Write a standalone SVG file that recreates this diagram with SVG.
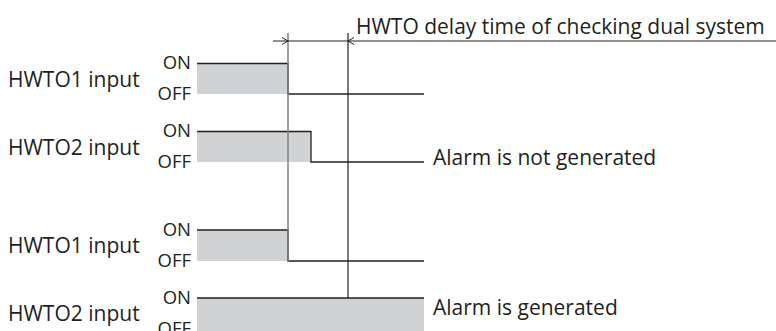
<svg xmlns="http://www.w3.org/2000/svg" width="776" height="331" viewBox="0 0 776 331">
<style>
.t{font-family:"Open Sans","Noto Sans",sans-serif;fill:#231f20}
.lbl{font-size:21px}
.st{font-size:18.5px;text-anchor:end}
.fill{fill:#d1d2d4;stroke:none}
.sig{fill:none;stroke:#231f20;stroke-width:1.3}
.ar{fill:none;stroke:#231f20;stroke-width:1}
</style>
<rect width="776" height="331" fill="#fff"/>
<g id="row1">
<rect class="fill" x="197" y="63.5" width="91" height="30.5"/>
<text class="t lbl" x="8" y="87">HWTO1 input</text>
<text class="t st" x="191" y="69">ON</text>
<text class="t st" x="191" y="100">OFF</text>
<path class="sig" d="M197,63.5H288V94H424"/>
</g>
<g id="row2">
<rect class="fill" x="197" y="131.5" width="114" height="30.5"/>
<text class="t lbl" x="8" y="155">HWTO2 input</text>
<text class="t st" x="191" y="137">ON</text>
<text class="t st" x="191" y="168">OFF</text>
<path class="sig" d="M197,131.5H311V162H424"/>
<text class="t lbl" x="433" y="165">Alarm is not generated</text>
</g>
<g id="row3">
<rect class="fill" x="197" y="230" width="91" height="31"/>
<text class="t lbl" x="8" y="253">HWTO1 input</text>
<text class="t st" x="191" y="236">ON</text>
<text class="t st" x="191" y="267">OFF</text>
<path class="sig" d="M197,230H288V261H424"/>
</g>
<g id="row4">
<rect class="fill" x="197" y="298" width="227" height="33"/>
<text class="t lbl" x="8" y="321">HWTO2 input</text>
<text class="t st" x="191" y="304">ON</text>
<text class="t st" x="191" y="335">OFF</text>
<path class="sig" d="M197,298H424"/>
<text class="t lbl" x="433" y="315">Alarm is generated</text>
</g>
<g id="connectors">
<line x1="288" y1="33" x2="288" y2="262" stroke="#808080" stroke-width="1.5"/>
<line x1="348" y1="33" x2="348" y2="298" stroke="#231f20" stroke-width="1.2"/>
<line x1="273" y1="41" x2="776" y2="41" stroke="#231f20" stroke-width="1.2"/>
<path class="ar" d="M282,37.5L288,41L282,44.5"/>
<path class="ar" d="M354,37.5L348,41L354,44.5"/>
<text class="t lbl" x="356" y="34">HWTO delay time of checking dual system</text>
</g>
</svg>
